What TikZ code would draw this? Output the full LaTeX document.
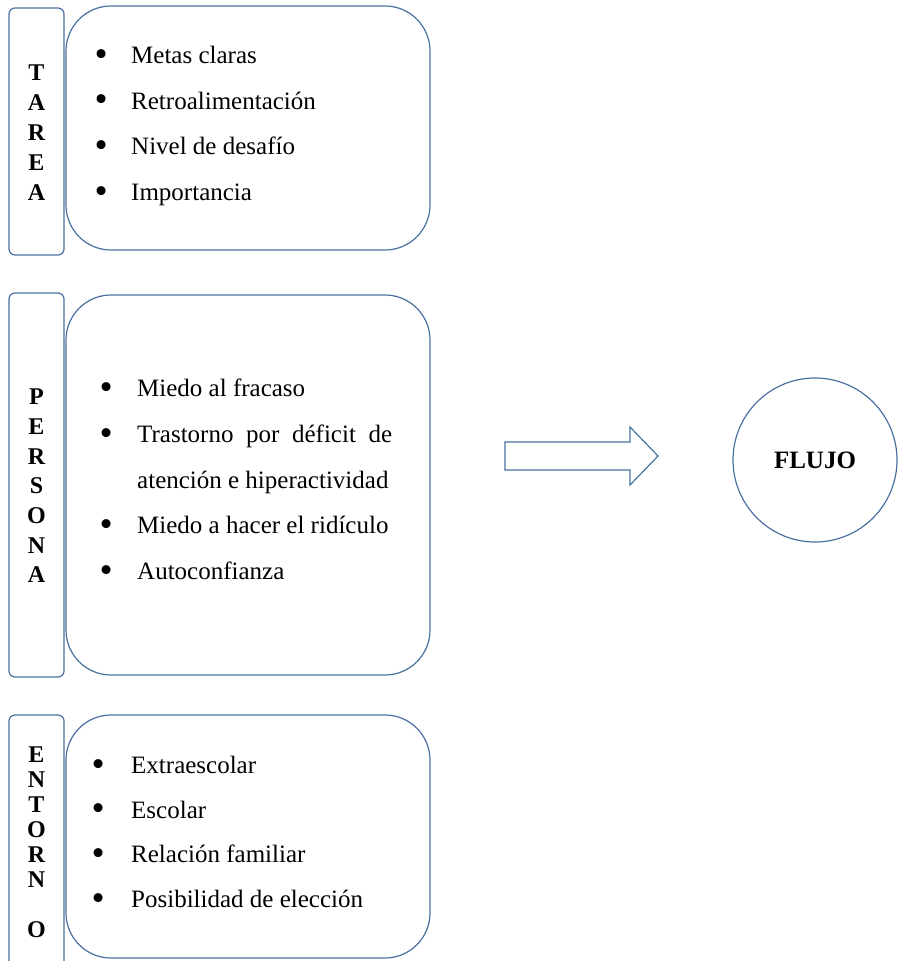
\documentclass[tikz,border=0pt]{standalone}
\usepackage{fontspec}
\usepackage{graphicx}
\setmainfont{Liberation Serif}
\definecolor{borde}{RGB}{74,112,160}
\newcommand{\punto}{\raisebox{-2.5pt}{\scalebox{1.5}{\textbullet}}}
\tikzset{
	letrabox/.style={draw=borde, line width=1.2pt, rounded corners=6pt, minimum width=55pt},
	listabox/.style={draw=borde, line width=1.2pt, rounded corners=45pt, minimum width=364pt},
	letras/.style={font=\bfseries\fontsize{24}{30}\selectfont, align=center, inner sep=0pt},
	lista/.style={font=\fontsize{25}{45.7}\selectfont, align=left, inner sep=0pt, anchor=north west},
}
\begin{document}
\begin{tikzpicture}[x=1pt,y=-1pt]

	% invisible corners
	\useasboundingbox (0,0) rectangle (903,961);

	% tarea
	\node[letrabox, minimum height=247pt] (tareatag) at (36.5,131.5) {};
	\node[listabox, minimum height=244pt] (tareabox) at (248,128) {};
	\node[letras] (tarealetras) at (36.5,133) {T\\A\\R\\E\\A};
	\node[lista] (tarealista) at (94.5,46) {%
		\makebox[36.5pt][l]{\punto}Metas claras\\
		\makebox[36.5pt][l]{\punto}Retroalimentación\\
		\makebox[36.5pt][l]{\punto}Nivel de desafío\\
		\makebox[36.5pt][l]{\punto}Importancia};

	% persona
	\node[letrabox, minimum height=384pt] (personatag) at (36.5,485) {};
	\node[listabox, minimum height=380pt] (personabox) at (248,485) {};
	\node[letras, font=\bfseries\fontsize{24}{29.7}\selectfont] (personaletras) at (36.5,486) {P\\E\\R\\S\\O\\N\\A};
	\node[lista] (personalista) at (99.5,379) {%
		\makebox[37.5pt][l]{\punto}Miedo al fracaso\\
		\makebox[37.5pt][l]{\punto}\makebox[255pt][s]{Trastorno por déficit de}\\
		\hspace*{37.5pt}atención e hiperactividad\\
		\makebox[37.5pt][l]{\punto}Miedo a hacer el ridículo\\
		\makebox[37.5pt][l]{\punto}Autoconfianza};

	% entorno
	\node[letrabox, minimum height=265pt] (entornotag) at (36.5,847.5) {};
	\node[listabox, minimum height=243pt] (entornobox) at (248,836.5) {};
	\node[letras, font=\bfseries\fontsize{24}{25}\selectfont] (entornoletras) at (36.5,842) {E\\N\\T\\O\\R\\N\\[25pt]O};
	\node[lista, font=\fontsize{25}{44.7}\selectfont] (entornolista) at (91.5,756) {%
		\makebox[39.5pt][l]{\punto}Extraescolar\\
		\makebox[39.5pt][l]{\punto}Escolar\\
		\makebox[39.5pt][l]{\punto}Relación familiar\\
		\makebox[39.5pt][l]{\punto}Posibilidad de elección};

	% block arrow
	\draw[borde, line width=1.2pt] (505,442) -- (630,442) -- (630,427) -- (658,456) -- (630,485) -- (630,470) -- (505,470) -- cycle;

	% flujo
	\node[draw=borde, line width=1.2pt, circle, minimum size=164pt, font=\bfseries\fontsize{25}{30}\selectfont] (flujo) at (815,460) {FLUJO};

\end{tikzpicture}
\end{document}
